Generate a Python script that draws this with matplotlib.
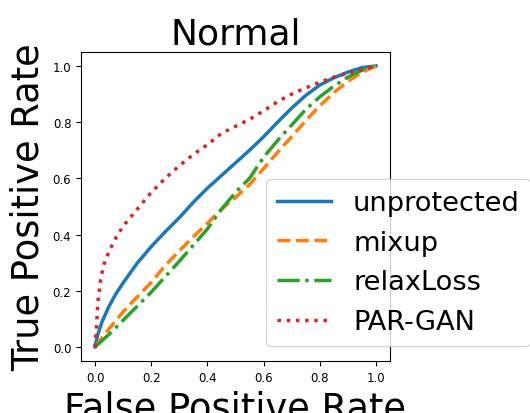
import numpy as np
import matplotlib
matplotlib.use('Agg')
import matplotlib.pyplot as plt

# ROC curves for the "Normal" setting
fpr_unprot = [0, 0.01, 0.025, 0.05, 0.075, 0.1, 0.15, 0.2, 0.25, 0.3, 0.35, 0.4, 0.45, 0.5,
              0.55, 0.6, 0.65, 0.7, 0.75, 0.8, 0.85, 0.9, 0.95, 1.0]
tpr_unprot = [0, 0.045, 0.09, 0.145, 0.19, 0.228, 0.298, 0.357, 0.41, 0.46, 0.515, 0.565, 0.61, 0.655,
              0.70, 0.748, 0.80, 0.85, 0.895, 0.932, 0.958, 0.978, 0.994, 1.0]

fpr_mixup = [0, 0.05, 0.1, 0.15, 0.2, 0.25, 0.3, 0.35, 0.4, 0.45, 0.5, 0.55, 0.6, 0.65,
             0.7, 0.75, 0.8, 0.85, 0.9, 0.95, 1.0]
tpr_mixup = [0, 0.065, 0.125, 0.178, 0.23, 0.29, 0.342, 0.392, 0.44, 0.49, 0.532, 0.578, 0.635, 0.693,
             0.748, 0.805, 0.858, 0.905, 0.945, 0.977, 1.0]

fpr_relax = [0, 0.05, 0.1, 0.15, 0.2, 0.25, 0.3, 0.35, 0.4, 0.45, 0.5, 0.55, 0.6, 0.65,
             0.7, 0.75, 0.8, 0.85, 0.9, 0.95, 1.0]
tpr_relax = [0, 0.045, 0.095, 0.145, 0.195, 0.25, 0.305, 0.362, 0.42, 0.49, 0.55, 0.60, 0.675, 0.735,
             0.79, 0.845, 0.89, 0.928, 0.96, 0.985, 1.0]

fpr_pargan = [0, 0.005, 0.01, 0.02, 0.03, 0.05, 0.075, 0.1, 0.15, 0.2, 0.25, 0.3, 0.35, 0.4,
              0.45, 0.5, 0.55, 0.6, 0.65, 0.7, 0.75, 0.8, 0.85, 0.9, 0.95, 1.0]
tpr_pargan = [0, 0.07, 0.16, 0.24, 0.29, 0.34, 0.39, 0.43, 0.49, 0.55, 0.60, 0.645, 0.685, 0.72,
              0.76, 0.785, 0.81, 0.84, 0.873, 0.90, 0.922, 0.942, 0.96, 0.974, 0.986, 1.0]

fig = plt.figure(figsize=(5.30, 4.14), dpi=100)
ax = fig.add_axes([0.1528, 0.1256, 0.583, 0.7466])

lw = 2.5
ax.plot(fpr_unprot, tpr_unprot, '-', color='tab:blue', lw=lw, label='unprotected')
ax.plot(fpr_mixup, tpr_mixup, '--', color='tab:orange', lw=lw, label='mixup')
ax.plot(fpr_relax, tpr_relax, '-.', color='tab:green', lw=lw, label='relaxLoss')
ax.plot(fpr_pargan, tpr_pargan, ':', color='tab:red', lw=lw, label='PAR-GAN')

ax.set_title('Normal', fontsize=26)
ax.set_xlabel('False Positive Rate', fontsize=26.5)
ax.set_ylabel('True Positive Rate', fontsize=26.5)
ax.tick_params(labelsize=8.5)
ax.set_xticks([0.0, 0.2, 0.4, 0.6, 0.8, 1.0])
ax.set_yticks([0.0, 0.2, 0.4, 0.6, 0.8, 1.0])

ax.legend(loc='lower left', bbox_to_anchor=(266 / 530, 67 / 414), bbox_transform=fig.transFigure,
          borderaxespad=0, fontsize=19.6)

fig.savefig('out.png', dpi=100)
